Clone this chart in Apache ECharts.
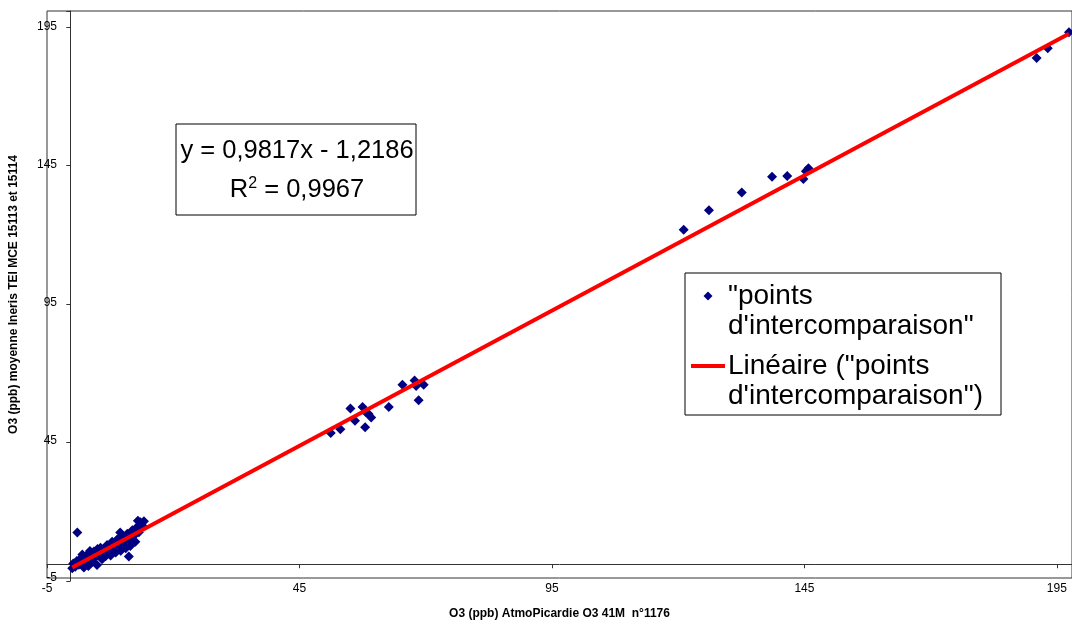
<!DOCTYPE html>
<html>
<head>
<meta charset="utf-8">
<script src="https://cdn.jsdelivr.net/npm/echarts@6/dist/echarts.min.js"></script>
<style>
  html, body { margin: 0; padding: 0; background: #fff; }
  #container { width: 1072px; height: 625px; }
</style>
</head>
<body>
<div id="container"></div>
<script>
// measured values: AtmoPicardie (x) vs Ineris mean (y)
var xValues = [
  0, 0.2, 0.6, 0.9, 1.3, 1.6, 1.9, 2.3, 2.6, 3.0, 3.2, 3.6, 3.9, 4.3, 4.6, 4.9, 5.3, 5.6,
  5.9, 6.2, 6.6, 6.9, 7.2, 7.6, 7.9, 8.2, 8.6, 8.9, 9.3, 9.6, 9.9, 10.3, 10.6, 10.9, 11.2,
  11.5, 11.9, 12.2, 12.5, 12.9, 13.2, 13.5, 13.9, 14.2, 13.0, 1.0, 11.2, 7.0, 5.0, 3.5, 9.5, 2.0,
  51.2, 53.1, 55.1, 56.0, 57.5, 58.0, 58.7, 59.2, 58.2, 62.7, 65.4, 67.8, 68.1, 69.6, 68.6,
  121.1, 126.1, 132.6, 138.6, 141.6, 144.8, 145.3, 145.8,
  191.0, 193.2, 197.4
];
var yValues = [
  -1.5, 0.3, -0.9, 1.2, -0.2, 2.0, 0.5, -1.2, 1.6, 3.4, -0.6, 2.2, 0.9, 4.6, 2.6, -0.3, 3.8, 6.0,
  1.8, 4.8, 2.9, 7.0, 5.2, 3.2, 8.2, 6.1, 4.3, 9.0, 6.9, 4.9, 10.2, 8.0, 5.8, 11.1, 9.2,
  6.6, 12.3, 10.3, 8.2, 13.6, 11.6, 15.2, 14.0, 15.6, 15.8, 11.5, 2.8, 6.0, 5.5, 4.8, 11.5, 3.5,
  47.6, 49.0, 56.5, 52.1, 57.1, 49.7, 54.5, 53.3, 55.1, 57.1, 65.1, 66.7, 64.7, 65.1, 59.5,
  121.4, 128.5, 134.9, 140.6, 140.9, 139.8, 142.6, 143.7,
  183.7, 187.3, 193.1
];
// Excel linear trendline
var slope = 0.9817;
var intercept = -1.2186;
var seriesName = '"points d\'intercomparaison"';

var points = xValues.map(function (x, i) { return [x, yValues[i]]; });
var xMin = Math.min.apply(null, xValues);
var xMax = Math.max.apply(null, xValues);
var trend = [[xMin, slope * xMin + intercept], [xMax, slope * xMax + intercept]];

var font = 'Liberation Sans, Arial, sans-serif';
var plotLeft = 45, plotRight = 1073;
// pixel where x = 0 falls, so the vertical axis line can sit there
var zeroX = plotLeft + (0 - (-5)) * (plotRight - plotLeft) / (198 - (-5));

var myChart = echarts.init(document.getElementById('container'));

var option = {
  animation: false,
  backgroundColor: '#fff',
  grid: [{
    left: 45, right: -1, top: 11, bottom: 44,
    show: true, borderColor: '#333', borderWidth: 1
  }, {
    left: zeroX, right: -1, top: 11, bottom: 44, show: false
  }],
  xAxis: [{
    type: 'value', min: -5, max: 198, interval: 50,
    position: 'bottom',
    axisLine: { show: false, onZero: false },
    axisTick: { show: false },
    splitLine: { show: false },
    axisLabel: { color: '#000', fontSize: 12, fontFamily: font, margin: 5, showMaxLabel: false },
    name: 'O3 (ppb) AtmoPicardie O3 41M  n°1176',
    nameLocation: 'middle', nameGap: 30,
    nameTextStyle: { color: '#000', fontSize: 12, fontWeight: 'bold', fontFamily: font }
  }, {
    // axis line through y = 0
    type: 'value', min: -5, max: 198, interval: 50,
    position: 'bottom',
    axisLine: { show: true, onZero: true, onZeroAxisIndex: 0, lineStyle: { color: '#333', width: 1 } },
    axisTick: { show: true, inside: false, length: 4, lineStyle: { color: '#333' } },
    axisLabel: { show: false },
    splitLine: { show: false }
  }, {
    gridIndex: 1, type: 'value', min: 0, max: 198, show: false
  }],
  yAxis: [{
    type: 'value', min: -5, max: 200.8, interval: 50,
    position: 'left',
    axisLine: { show: false, onZero: false },
    axisTick: { show: false },
    splitLine: { show: false },
    axisLabel: { color: '#000', fontSize: 12, fontFamily: font, margin: -10, showMaxLabel: false },
    name: 'O3 (ppb) moyenne Ineris TEI MCE 15113 et 15114',
    nameLocation: 'middle', nameGap: 27,
    nameTextStyle: { color: '#000', fontSize: 12, fontWeight: 'bold', fontFamily: font }
  }, {
    // axis line through x = 0
    gridIndex: 1,
    type: 'value', min: -5, max: 200.8, interval: 50,
    position: 'left',
    axisLine: { show: true, onZero: false, lineStyle: { color: '#333', width: 1 } },
    axisTick: { show: true, inside: false, length: 4, lineStyle: { color: '#333' } },
    axisLabel: { show: false },
    splitLine: { show: false }
  }],
  series: [{
    name: seriesName,
    type: 'scatter',
    xAxisIndex: 0, yAxisIndex: 0,
    symbol: 'diamond',
    symbolSize: 10,
    itemStyle: { color: '#000080', opacity: 1 },
    data: points,
    z: 2
  }, {
    name: 'Linéaire (' + seriesName + ')',
    type: 'line',
    xAxisIndex: 0, yAxisIndex: 0,
    symbol: 'none',
    lineStyle: { color: '#ff0000', width: 4 },
    data: trend,
    z: 3
  }],
  graphic: [
    // equation box
    { type: 'rect', x: 176, y: 124, shape: { x: 0, y: 0, width: 240, height: 91 },
      style: { fill: '#fff', stroke: '#000', lineWidth: 1 }, z: 10 },
    { type: 'text', x: 297, y: 151, z: 11,
      style: { text: 'y = 0,9817x - 1,2186', fontSize: 25.5, fontFamily: font, fill: '#000',
               align: 'center', verticalAlign: 'middle' } },
    { type: 'text', x: 297, y: 190, z: 11,
      style: { text: '{n|R}{s|2}{n| = 0,9967}', fontFamily: font, fill: '#000',
               align: 'center', verticalAlign: 'middle',
               rich: { n: { fontSize: 25.5, fontFamily: font, fill: '#000' },
                       s: { fontSize: 16, fontFamily: font, fill: '#000', padding: [0, 0, 13, 0] } } } },
    // legend box
    { type: 'rect', x: 685, y: 273, shape: { x: 0, y: 0, width: 316, height: 142 },
      style: { fill: '#fff', stroke: '#000', lineWidth: 1 }, z: 10 },
    { type: 'polygon', z: 11,
      shape: { points: [[708, 291.5], [712.5, 296], [708, 300.5], [703.5, 296]] },
      style: { fill: '#000080' } },
    { type: 'text', x: 728, y: 281, z: 11,
      style: { text: '"points\nd\'intercomparaison"', fontSize: 28, lineHeight: 30, fontFamily: font,
               fill: '#000' } },
    { type: 'line', z: 11, shape: { x1: 691, y1: 366, x2: 725, y2: 366 },
      style: { stroke: '#ff0000', lineWidth: 4 } },
    { type: 'text', x: 728, y: 351, z: 11,
      style: { text: 'Linéaire ("points\nd\'intercomparaison")', fontSize: 28, lineHeight: 30, fontFamily: font,
               fill: '#000' } }
  ]
};
option && myChart.setOption(option);
</script>
</body>
</html>
